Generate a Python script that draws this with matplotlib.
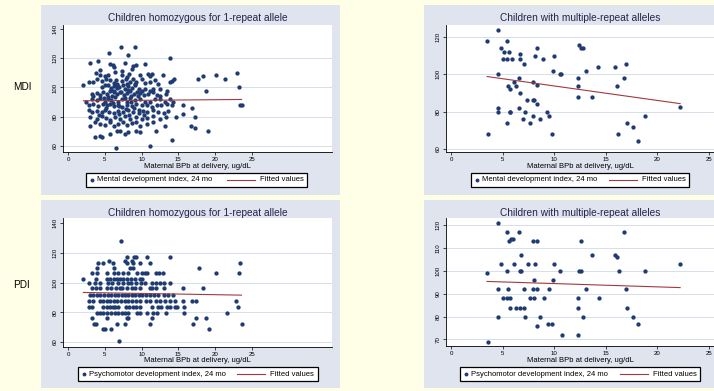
import matplotlib.pyplot as plt
from matplotlib.patches import Rectangle
from matplotlib.lines import Line2D

plt.rcParams['font.family'] = ['Liberation Sans', 'DejaVu Sans']

# Maternal blood lead (x) vs. 24-month scores
mdi1_x = [7.2, 9.1, 5.6, 8.1, 13.9, 3.0, 4.1, 5.7, 6.1, 7.7, 9.3, 10.5, 8.9,
          3.8, 4.4, 6.2, 7.4, 8.7, 9.8, 10.9, 11.4, 4.3, 5.0, 6.4, 7.3, 8.0, 8.3,
          11.1, 12.9, 13.9, 14.4,
          3.4, 3.9, 4.6, 5.2, 5.7, 6.2, 6.7, 7.4, 8.0, 8.4, 9.1, 10.0, 10.5, 11.1,
          11.8, 12.3, 14.1, 17.7, 18.3, 20.1, 21.4, 23.0,
          2.1, 2.8, 4.6, 5.0, 5.5, 5.8, 6.2, 6.6, 7.0, 7.5, 7.7, 8.2, 8.7, 9.1,
          9.6, 10.0, 10.5, 11.1, 11.6, 12.5, 13.4, 23.2,
          3.2, 3.4, 3.9, 4.3, 4.8, 5.3, 5.7, 6.2, 6.6, 7.1, 7.6, 8.0, 8.4, 9.0,
          9.8, 10.3, 10.9, 11.6, 12.1, 12.5, 13.3, 18.7,
          2.5, 3.2, 3.9, 4.3, 5.0, 5.5, 5.9, 6.4, 6.8, 7.3, 8.0, 8.4, 9.1, 9.8,
          10.5, 11.1, 11.8, 12.5, 13.2, 13.9, 14.3,
          2.8, 3.4, 4.1, 4.7, 5.3, 5.7, 6.3, 6.8, 7.4, 8.0, 8.7, 9.3, 10.0, 10.8,
          11.4, 12.1, 12.7, 13.4, 14.1, 15.7, 23.4, 23.6,
          2.8, 3.2, 4.0, 4.6, 5.0, 5.6, 6.2, 6.8, 7.5, 8.2, 8.9, 9.6, 10.2, 10.8,
          11.5, 12.3, 13.0, 13.6, 16.9, 15.7,
          3.0, 3.9, 4.6, 5.2, 5.7, 6.4, 7.1, 7.7, 8.4, 9.2, 10.0, 10.8, 11.6, 12.5,
          13.3, 14.7, 17.3,
          3.0, 3.7, 4.3, 5.0, 5.7, 6.2, 6.8, 7.5, 8.0, 8.7, 9.3, 9.8, 10.8, 11.6,
          13.2, 16.7, 17.3,
          3.7, 4.3, 4.6, 5.7, 6.6, 7.1, 7.7, 8.2, 9.3, 9.8, 12.0, 19.1,
          14.1, 11.2, 6.5,
          5.9, 6.3, 6.0, 6.7, 7.2, 7.8, 8.1, 8.6, 9.4, 5.4, 6.9, 7.9, 8.5, 9.0,
          6.1, 5.2, 4.9, 9.5, 6.5, 7.9, 8.8, 5.4, 9.3, 6.9, 8.3, 4.2, 9.6, 10.4]
mdi1_y = [127.9, 127.9, 123.8, 121.9, 120.1, 116.9, 117.8, 115.8, 115.5, 116.7, 115.5, 115.8, 114.4,
          109.8, 111.7, 113.9, 111.2, 112.8, 108.2, 109.4, 109.4, 108.2, 107.8, 110.5, 108.2, 107.1, 108.9,
          107.8, 108.7, 103.7, 105.9,
          103.7, 105.9, 104.1, 105.5, 104.8, 103.2, 102.5, 104.1, 102.5, 103.7, 102.5, 105.9, 103.2, 103.7,
          104.8, 102.5, 104.1, 105.9, 107.8, 108.2, 105.9, 109.8,
          101.8, 103.7, 100.2, 101.4, 101.8, 99.5, 100.9, 101.8, 100.2, 101.4, 99.1, 100.9, 99.5, 101.4,
          99.1, 97.9, 99.1, 97.9, 99.1, 99.1, 97.9, 100.0,
          95.7, 94.5, 96.3, 95.0, 96.8, 95.7, 97.9, 96.8, 95.7, 96.8, 95.0, 96.3, 97.3, 95.7,
          96.3, 95.0, 95.7, 96.8, 95.0, 94.5, 95.7, 97.9,
          90.4, 92.2, 91.1, 92.7, 90.4, 92.2, 91.1, 93.4, 90.4, 91.8, 89.9, 92.7, 91.1, 92.2,
          90.4, 89.9, 91.8, 92.2, 90.4, 92.2, 90.4,
          87.7, 88.8, 87.2, 88.8, 87.7, 88.8, 87.2, 88.1, 86.5, 88.1, 87.2, 88.8, 87.7, 88.1,
          86.5, 87.7, 88.1, 88.8, 87.7, 88.1, 88.1, 88.1,
          84.9, 83.1, 84.2, 83.1, 84.9, 83.5, 82.6, 84.2, 83.1, 84.9, 83.5, 82.6, 84.2, 83.1,
          84.9, 83.5, 82.6, 84.2, 86.1, 81.9,
          79.7, 78.5, 80.3, 79.0, 78.1, 79.7, 78.5, 80.3, 78.5, 79.7, 78.5, 79.0, 80.3, 78.5,
          79.7, 80.1, 80.1,
          73.9, 76.2, 75.1, 74.4, 76.2, 73.9, 75.1, 76.2, 74.4, 75.8, 76.2, 73.9, 75.1, 76.2,
          73.9, 73.9, 72.1,
          65.9, 67.1, 66.4, 68.2, 70.3, 70.3, 68.2, 69.4, 70.3, 69.4, 70.3, 70.3,
          64.1, 60.0, 58.4,
          98.5, 97.5, 94.0, 99.5, 97.0, 93.0, 98.5, 94.0, 97.0, 93.5, 87.0, 85.5, 90.0, 86.0,
          89.5, 86.0, 93.0, 94.5, 105.0, 105.5, 106.0, 108.5, 103.5, 82.0, 81.5, 81.5, 84.5, 81.0]

mdi2_x = [4.6, 3.5, 5.4, 4.8, 5.1, 5.6, 5.0, 5.4, 5.9, 6.7, 6.7, 7.1, 8.3, 8.1,
          8.9, 10.0, 12.4, 12.6, 12.8, 14.2, 15.9, 17.0, 9.9, 10.6, 10.7, 13.1,
          4.6, 6.6, 6.1, 6.3, 5.5, 5.7, 7.9, 8.3, 12.3, 12.3, 12.3, 13.7, 16.1,
          16.8, 6.7, 7.4, 7.9, 8.0, 8.3, 6.6, 4.6, 4.6, 5.7, 5.7, 7.2, 7.9, 9.3,
          9.5, 7.0, 8.6, 7.7, 5.4, 3.6, 9.8, 18.8, 17.1, 17.6, 16.2, 18.1, 22.2]
mdi2_y = [123.9, 117.9, 117.9, 113.9, 112.0, 112.0, 108.0, 108.0, 108.0, 110.7, 108.0, 105.7, 113.9, 109.8,
          108.0, 109.8, 115.9, 113.9, 113.9, 103.9, 103.9, 105.7, 101.8, 100.0, 100.0, 101.8,
          100.0, 97.9, 95.7, 93.8, 93.9, 92.0, 95.9, 94.1, 97.9, 93.9, 88.0, 88.0, 93.9,
          97.9, 89.8, 86.1, 86.1, 86.1, 83.9, 82.0, 82.0, 79.8, 79.8, 79.8, 79.8, 77.9, 79.8,
          77.9, 75.9, 75.9, 73.9, 73.9, 67.9, 67.9, 77.9, 73.9, 72.0, 67.9, 64.1, 82.5]

pdi1_x = [7.2,
          8.0, 9.0, 9.2, 10.8, 13.9,
          5.6, 7.7, 8.7,
          4.1, 4.7, 6.1, 8.0, 8.8, 9.8, 11.1, 23.4,
          4.0, 6.2, 8.4, 8.8, 17.8,
          3.3, 3.9, 5.3, 6.3, 6.8, 7.5, 8.2, 9.4, 10.1, 10.5, 10.8, 12.0, 12.4, 12.9, 20.1, 23.3,
          2.1, 3.8, 5.3, 5.7, 6.2, 6.6, 7.1, 7.5, 8.0, 8.5, 9.1, 9.8, 10.0,
          2.9, 3.7, 4.3, 5.5, 6.0, 6.8, 7.5, 8.1, 8.5, 9.3, 9.9, 10.5, 11.4, 12.0, 12.5, 13.0, 13.9,
          3.2, 3.8, 4.3, 5.3, 5.9, 6.5, 7.1, 7.4, 8.0, 8.7, 9.1, 9.8, 11.1, 11.4, 12.0, 13.0, 15.7, 18.3,
          3.0, 3.4, 3.9, 4.3, 4.9, 5.5, 5.9, 6.4, 6.8, 7.3, 7.7, 8.2, 8.7, 9.1, 9.6, 10.0, 10.6, 11.1,
          11.7, 12.3, 13.0, 13.6, 14.3,
          2.8, 3.4, 4.3, 4.8, 5.3, 5.7, 6.2, 6.6, 7.2, 7.7, 8.2, 8.7, 9.3, 9.8, 10.6, 11.1, 12.0, 12.5,
          13.2, 13.9, 14.5, 15.7, 16.8, 17.4, 22.9,
          2.8, 3.3, 4.8, 5.3, 5.7, 6.1, 6.4, 6.8, 7.9, 8.3, 8.8, 9.3, 9.8, 11.4, 12.3, 12.7, 13.4, 13.9,
          14.5, 14.8, 15.8, 23.1,
          4.0, 4.3, 4.7, 5.3, 5.9, 6.4, 6.8, 7.3, 7.7, 8.2, 9.4, 9.8, 10.7, 11.6, 12.1, 13.3, 15.8, 21.6,
          3.3, 5.3, 8.0, 8.2, 11.4, 17.4, 18.7,
          3.6, 3.8, 6.6, 7.8, 11.1, 17.0, 23.6,
          4.8, 5.0, 5.8, 19.2,
          7.0]
pdi1_y = [128.0,
          117.0, 117.0, 117.0, 117.0, 117.0,
          114.7, 114.7, 114.7,
          113.1, 113.1, 113.1, 113.1, 113.1, 113.1, 113.1, 113.1,
          109.8, 109.8, 109.8, 109.8, 109.8,
          106.4, 106.4, 106.4, 106.4, 106.4, 106.4, 106.4, 106.4, 106.4, 106.4, 106.4, 106.4, 106.4,
          106.4, 106.4, 106.4,
          102.5, 102.5, 102.5, 102.5, 102.5, 102.5, 102.5, 102.5, 102.5, 102.5, 102.5, 102.5, 102.5,
          99.6, 99.6, 99.6, 99.6, 99.6, 99.6, 99.6, 99.6, 99.6, 99.6, 99.6, 99.6, 99.6, 99.6, 99.6,
          99.6, 99.6,
          96.0, 96.0, 96.0, 96.0, 96.0, 96.0, 96.0, 96.0, 96.0, 96.0, 96.0, 96.0, 96.0, 96.0, 96.0,
          96.0, 96.0, 96.0,
          91.5, 91.5, 91.5, 91.5, 91.5, 91.5, 91.5, 91.5, 91.5, 91.5, 91.5, 91.5, 91.5, 91.5, 91.5,
          91.5, 91.5, 91.5, 91.5, 91.5, 91.5, 91.5, 91.5,
          87.6, 87.6, 87.6, 87.6, 87.6, 87.6, 87.6, 87.6, 87.6, 87.6, 87.6, 87.6, 87.6, 87.6, 87.6,
          87.6, 87.6, 87.6, 87.6, 87.6, 87.6, 87.6, 87.6, 87.6, 87.6,
          83.8, 83.8, 83.8, 83.8, 83.8, 83.8, 83.8, 83.8, 83.8, 83.8, 83.8, 83.8, 83.8, 83.8, 83.8,
          83.8, 83.8, 83.8, 83.8, 83.8, 83.8, 83.8,
          79.7, 79.7, 79.7, 79.7, 79.7, 79.7, 79.7, 79.7, 79.7, 79.7, 79.7, 79.7, 79.7, 79.7, 79.7,
          79.7, 79.7, 79.7,
          76.3, 76.3, 76.3, 76.3, 76.3, 76.3, 76.3,
          72.1, 72.1, 72.1, 72.1, 72.1, 72.1, 72.1,
          68.4, 68.4, 68.4, 68.4,
          60.5]

pdi2_x = [4.6, 5.4, 6.6, 5.6, 5.8, 6.0, 7.9, 8.3, 12.6, 16.8, 6.75, 13.7, 15.9, 16.1,
          4.8, 6.1, 7.5, 8.1, 10.0, 5.4, 6.7, 6.8, 10.6, 12.4, 12.6, 16.3, 18.8, 3.5,
          8.0, 9.9, 4.6, 5.5, 7.1, 7.9, 8.3, 9.5, 13.1, 17.0, 5.05, 5.4, 5.7, 7.7,
          8.0, 9.0, 12.35, 14.3, 5.7, 6.3, 6.7, 7.1, 12.35, 17.1, 4.6, 7.2, 8.65, 12.8,
          17.6, 8.3, 9.4, 9.8, 18.1, 10.8, 12.35, 3.6, 22.2]
pdi2_y = [121.2, 117.1, 117.1, 113.1, 113.9, 114.2, 113.1, 113.1, 113.1, 117.1, 107.0, 107.0, 107.0, 106.0,
          103.0, 103.0, 103.0, 103.0, 103.0, 100.1, 100.1, 100.1, 100.1, 100.1, 100.1, 100.1, 100.1, 98.9,
          96.0, 96.0, 91.9, 91.9, 91.9, 91.9, 91.9, 91.9, 91.9, 91.9, 88.0, 88.0, 88.0, 88.0,
          88.0, 88.0, 88.0, 88.0, 83.9, 83.9, 83.9, 83.9, 83.9, 83.9, 79.9, 79.9, 79.9, 79.9,
          79.9, 75.8, 76.9, 76.9, 76.9, 71.9, 71.9, 68.8, 102.9]

# fitted-value lines (end points)
fit_mdi1_x, fit_mdi1_y = [2.1, 23.6], [90.9, 91.8]
fit_mdi2_x, fit_mdi2_y = [3.5, 22.2], [98.8, 84.3]
fit_pdi1_x, fit_pdi1_y = [2.1, 23.6], [93.3, 91.5]
fit_pdi2_x, fit_pdi2_y = [3.5, 22.2], [95.4, 92.7]

title_one = "Children homozygous for 1-repeat allele"
title_multi = "Children with multiple-repeat alleles"
xlab = "Maternal BPb at delivery, ug/dL"

NAVY = '#1f3b73'
MAROON = '#a03a3e'
PANEL = '#dfe4ef'
GRID = '#d5deea'

W, H = 714, 391
fig = plt.figure(figsize=(W / 100, H / 100), dpi=100)
fig.patch.set_facecolor('#ffffe8')


def fx(px):
    return px / W


def fy(py):
    return 1 - py / H


# grey-blue graph regions (pixel boxes)
for (x0, y0, x1, y1) in [(41, 5, 340, 195), (424, 5, 720, 195),
                         (41, 200, 340, 388), (424, 200, 720, 388)]:
    fig.patches.append(Rectangle((fx(x0), fy(y1)), fx(x1 - x0), (y1 - y0) / H,
                                 transform=fig.transFigure, facecolor=PANEL,
                                 edgecolor='none', zorder=-5))


def legend_box(x0, width, y0, label, line_at):
    # Stata-style legend: marker + label, then a line key + "Fitted values"
    yc = fy(y0 + 7)
    fig.patches.append(Rectangle((fx(x0), fy(y0 + 14)), fx(width), 14 / H,
                                 transform=fig.transFigure, facecolor='white',
                                 edgecolor='black', lw=0.9, zorder=5))
    fig.lines.append(Line2D([fx(x0 + 6)], [yc], marker='o', ms=2.8, color=NAVY,
                            mew=0, transform=fig.transFigure, zorder=6))
    fig.text(fx(x0 + 11), yc, label, ha='left', va='center', fontsize=5.5, zorder=6)
    fig.lines.append(Line2D([fx(x0 + line_at), fx(x0 + line_at + 28)], [yc, yc],
                            color=MAROON, lw=0.8, transform=fig.transFigure, zorder=6))
    fig.text(fx(x0 + line_at + 33), yc, 'Fitted values', ha='left', va='center',
             fontsize=5.5, zorder=6)


def panel(box, xs, ys, fit_x, fit_y, xlim, ylim, yticks, title, title_y, xlab_y):
    x0, y0, x1, y1 = box
    ax = fig.add_axes([fx(x0), fy(y1), fx(x1 - x0), (y1 - y0) / H])
    ax.set_facecolor('white')
    for t in yticks:
        if t < 140:
            ax.axhline(t, color=GRID, lw=0.7, zorder=1)
    ax.plot(xs, ys, 'o', ms=3.1, color=NAVY, mew=0, zorder=3)
    ax.plot(fit_x, fit_y, '-', color=MAROON, lw=0.8, zorder=4)
    ax.set_xlim(xlim)
    ax.set_ylim(ylim)
    ax.set_xticks([0, 5, 10, 15, 20, 25])
    ax.set_yticks(yticks)
    for s in ['top', 'right']:
        ax.spines[s].set_visible(False)
    for s in ['left', 'bottom']:
        ax.spines[s].set_linewidth(0.6)
    ax.tick_params(labelsize=4.4, length=2.5, width=0.5, pad=1.2)
    plt.setp(ax.get_yticklabels(), rotation=90, va='center')
    cx = (fx(x0) + fx(x1)) / 2 if x0 < 300 else fx(580)
    fig.text(cx, fy(title_y), title, ha='center', va='center', fontsize=7.3, color='#24244a')
    fig.text(cx, fy(xlab_y), xlab, ha='center', va='center', fontsize=5.5)
    return ax


panel((63, 25, 332, 152), mdi1_x, mdi1_y, fit_mdi1_x, fit_mdi1_y,
      (-0.68, 35.9), (55.9, 142.7), [60, 80, 100, 120, 140], title_one, 18.3, 166)
panel((446, 25, 718, 152), mdi2_x, mdi2_y, fit_mdi2_x, fit_mdi2_y,
      (-0.48, 25.87), (58.4, 126.4), [60, 80, 100, 120], title_multi, 18.3, 166)
panel((63, 218, 332, 347), pdi1_x, pdi1_y, fit_pdi1_x, fit_pdi1_y,
      (-0.68, 35.9), (56.6, 143.4), [60, 80, 100, 120, 140], title_one, 213.3, 360)
panel((446, 218, 718, 346), pdi2_x, pdi2_y, fit_pdi2_x, fit_pdi2_y,
      (-0.48, 25.87), (67.1, 123.2), [70, 80, 90, 100, 110, 120], title_multi, 213.3, 360)

legend_box(86, 221, 173, 'Mental development index, 24 mo', 141)
legend_box(471, 218, 173, 'Mental development index, 24 mo', 138)
legend_box(78, 240, 367, 'Psychomotor development index, 24 mo', 159)
legend_box(460, 240, 367, 'Psychomotor development index, 24 mo', 160)

fig.text(fx(22), fy(87), 'MDI', ha='center', va='center', fontsize=7.2)
fig.text(fx(22), fy(285.5), 'PDI', ha='center', va='center', fontsize=7.2)

fig.savefig('out.png', dpi=100, facecolor=fig.get_facecolor())
